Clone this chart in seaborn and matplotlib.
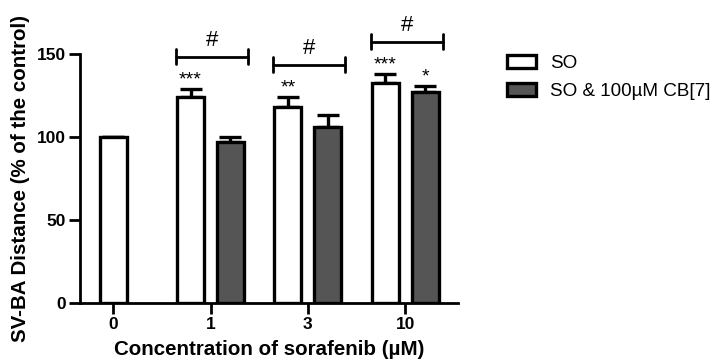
import numpy as np
import pandas as pd
import matplotlib
matplotlib.use("Agg")
import matplotlib.pyplot as plt
import seaborn as sns
from matplotlib.patches import Patch

# ---- data ----
concentrations = ["0", "1", "3", "10"]
so_mean = [100.0, 124.5, 118.1, 132.7]
so_sem = [0.0, 4.6, 6.0, 5.4]
cb_conc = ["1", "3", "10"]
cb_mean = [97.3, 106.4, 127.1]
cb_sem = [3.0, 7.0, 3.6]
so_stars = ["", "***", "**", "***"]
cb_stars = ["", "", "*"]
series_names = ["SO", "SO & 100\u00b5M CB[7]"]
ylabel = "SV-BA Distance (% of the control)"
xlabel = "Concentration of sorafenib (\u00b5M)"

sns.set_theme(style="ticks")
plt.rcParams["font.family"] = ["Liberation Sans", "DejaVu Sans"]
plt.rcParams.update({"text.color": "black", "axes.labelcolor": "black",
                     "xtick.color": "black", "ytick.color": "black"})

fig = plt.figure(figsize=(7.21, 3.62), dpi=100)
ax = fig.add_axes([0.111, 0.163, 0.524, 0.687])

colors = {series_names[0]: "white", series_names[1]: "#555555"}
edge_kw = dict(edgecolor="black", linewidth=2.4)

# group "0": single, centered bar
df0 = pd.DataFrame({"conc": [concentrations[0]], "val": [so_mean[0]]})
sns.barplot(data=df0, x="conc", y="val", order=[concentrations[0]],
            color="white", width=0.28, errorbar=None, ax=ax, **edge_kw)

# paired groups
rows = []
for c, m in zip(concentrations[1:], so_mean[1:]):
    rows.append((c, series_names[0], m))
for c, m in zip(cb_conc, cb_mean):
    rows.append((c, series_names[1], m))
df = pd.DataFrame(rows, columns=["conc", "series", "val"])
sns.barplot(data=df, x="conc", y="val", hue="series", order=concentrations,
            hue_order=series_names, palette=colors, width=0.82, gap=0.32,
            errorbar=None, ax=ax, legend=False, **edge_kw)

# collect bar centers from the drawn patches
patches = [p for p in ax.patches if p.get_height() > 0]
def center(p):
    return p.get_x() + p.get_width() / 2

so_patches = sorted([p for p in patches if p.get_facecolor()[0] > 0.9], key=center)
cb_patches = sorted([p for p in patches if p.get_facecolor()[0] <= 0.9], key=center)

so_x = [center(p) for p in so_patches]
cb_x = [center(p) for p in cb_patches]

err_kw = dict(fmt="none", ecolor="black", elinewidth=2.4, capsize=8, capthick=2.4,
              zorder=1)
ax.errorbar(so_x, so_mean, yerr=[np.zeros(len(so_sem)), so_sem], **err_kw)
ax.errorbar(cb_x, cb_mean, yerr=[np.zeros(len(cb_sem)), cb_sem], **err_kw)
for p in ax.patches:
    p.set_zorder(2)

# stars
for x, m, e, s in zip(so_x, so_mean, so_sem, so_stars):
    if s:
        ax.text(x, m + e + 5.5, s, ha="center", va="center", fontsize=14,
                clip_on=False)
for x, m, e, s in zip(cb_x, cb_mean, cb_sem, cb_stars):
    if s:
        ax.text(x, m + e + 5.5, s, ha="center", va="center", fontsize=14,
                clip_on=False)

# brackets with "#"
for i in range(len(cb_conc)):
    sp = so_patches[i + 1]
    cp = cb_patches[i]
    x0 = sp.get_x() - 0.01
    x1 = cp.get_x() + cp.get_width() + 0.04
    top = max(so_mean[i + 1] + so_sem[i + 1], cb_mean[i] + cb_sem[i])
    yb = top + 19.5
    ax.plot([x0, x1], [yb, yb], color="black", lw=2, clip_on=False)
    ax.plot([x0, x0], [yb - 4.5, yb + 4.5], color="black", lw=2, clip_on=False)
    ax.plot([x1, x1], [yb - 4.5, yb + 4.5], color="black", lw=2, clip_on=False)
    ax.text((x0 + x1) / 2, yb + 10, "#", ha="center", va="center",
            fontsize=16, clip_on=False)

ax.set_ylim(0, 150)
ax.set_xlim(-0.34, 3.54)
ax.set_yticks([0, 50, 100, 150])
ax.set_xticks(range(len(concentrations)))
ax.set_xticklabels(concentrations)
for lab in ax.get_xticklabels() + ax.get_yticklabels():
    lab.set_fontweight("bold")
    lab.set_fontsize(12.5)
ax.tick_params(axis="both", width=2, length=8, color="black", pad=2)
for s in ["left", "bottom"]:
    ax.spines[s].set_linewidth(2)
    ax.spines[s].set_color("black")
sns.despine(ax=ax)

ax.set_ylabel(ylabel, fontsize=14.8, fontweight="bold", labelpad=5)
ax.set_xlabel(xlabel, fontsize=14.8, fontweight="bold", labelpad=6)

handles = [Patch(facecolor=colors[n], edgecolor="black", linewidth=2.4, label=n)
           for n in series_names]
fig.legend(handles=handles, loc="upper left", bbox_to_anchor=(0.68, 0.895),
           frameon=False, fontsize=13.6, handlelength=1.5, handleheight=0.72,
           handletextpad=0.75, labelspacing=0.55)

fig.savefig("out.png", dpi=100)
